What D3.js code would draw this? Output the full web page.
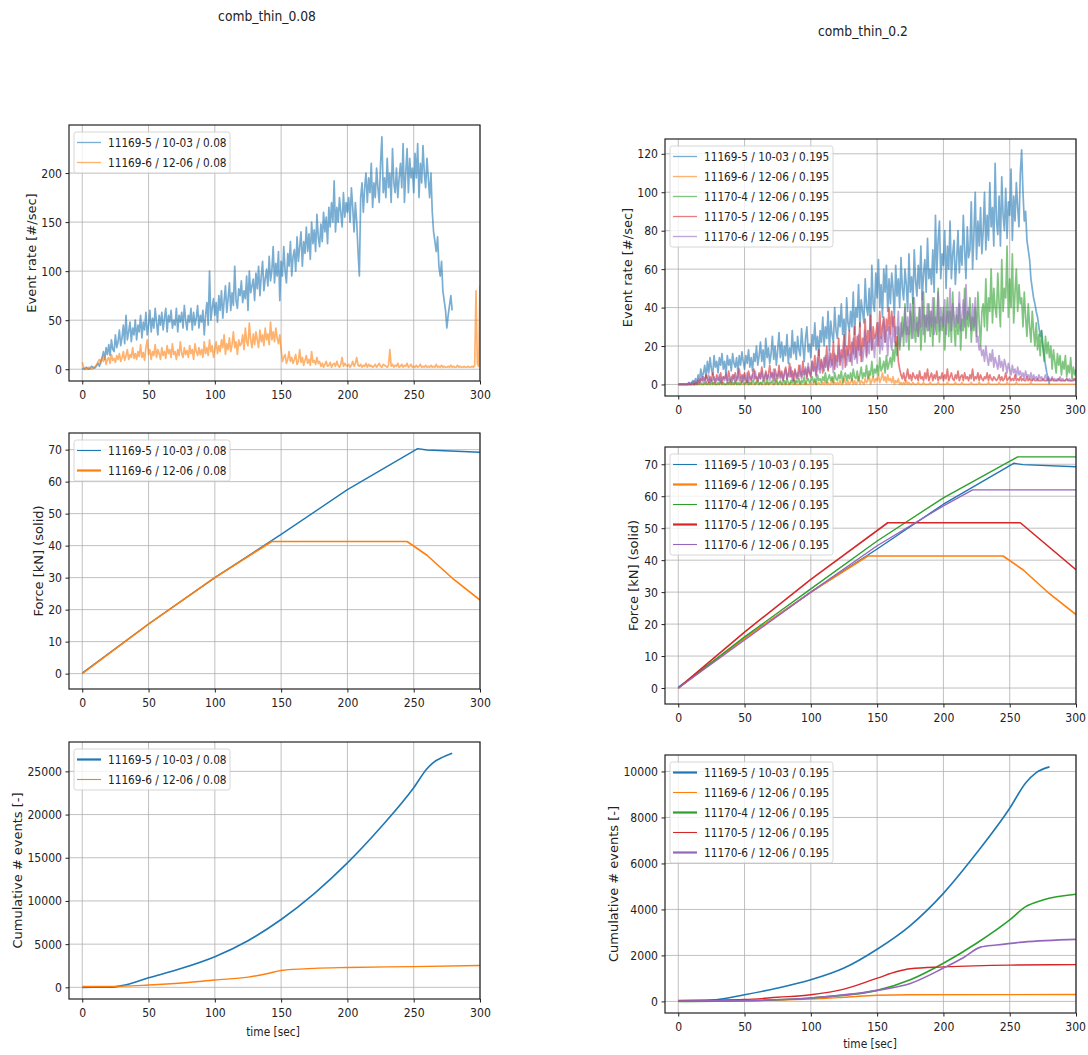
<!DOCTYPE html>
<html><head><meta charset="utf-8">
<script src="https://cdn.jsdelivr.net/npm/d3@7"></script>
<style>
body{margin:0;background:#fff}
svg{display:block}
text{font-family:"DejaVu Sans",sans-serif;fill:#222}
</style>
</head><body>
<svg id="c" width="1088" height="1055"></svg>
<script>
// ---------------- DATA ----------------
const panelTitles = ["comb_thin_0.08", "comb_thin_0.2"];
const leftLabels = ["11169-5 / 10-03 / 0.08", "11169-6 / 12-06 / 0.08"];
const rightLabels = ["11169-5 / 10-03 / 0.195", "11169-6 / 12-06 / 0.195", "11170-4 / 12-06 / 0.195", "11170-5 / 12-06 / 0.195", "11170-6 / 12-06 / 0.195"];
const xTickValues = [0, 50, 100, 150, 200, 250, 300];
const yTicksRateLeft = [0, 50, 100, 150, 200];
const yTicksRateRight = [0, 20, 40, 60, 80, 100, 120];
const yTicksForce = [0, 10, 20, 30, 40, 50, 60, 70];
const yTicksCumLeft = [0, 5000, 10000, 15000, 20000, 25000];
const yTicksCumRight = [0, 2000, 4000, 6000, 8000, 10000];
const rateStepSec = 1; // event-rate samples, one per second starting at t=0

// Event rate, comb_thin_0.08
const rateL_11169_5 = [
0,1,0,2,1,0,1,3,2,1, 2,4,6,3,8,12,18,10,22,15, 25,14,30,20,18,35,22,28,40,24, 32,45,26,55,30,38,48,28,42,35,
50,30,45,38,55,32,48,40,58,35, 45,60,38,52,42,62,48,35,55,45, 58,40,52,62,38,55,48,60,42,50, 45,62,38,55,48,58,42,65,50,40,
55,48,62,40,58,45,52,65,42,55, 48,60,35,55,68,45,100,50,62,72, 55,68,48,75,60,80,52,70,85,58, 72,88,60,78,65,105,70,62,82,75,
90,68,80,72,95,60,100,78,85,92, 70,98,82,105,75,95,110,80,92,102, 85,115,90,100,125,88,108,95,120,70, 110,95,125,100,88,118,105,130,95,115,
122,100,135,110,125,140,105,130,118,145, 120,138,112,150,128,142,120,158,135,125, 148,130,160,140,155,128,165,145,170,150, 192,140,165,150,175,160,145,180,155,170,
160,175,150,185,165,140,170,150,120,95, 175,190,160,185,200,170,195,180,210,165, 190,175,205,185,170,210,237,180,195,175, 215,185,200,170,225,190,180,205,175,195,
210,185,230,170,200,225,180,215,195,205, 180,220,195,230,175,210,190,228,200,185, 215,195,175,200,160,140,130,120,135,105, 95,110,80,70,60,42,55,65,75,60
];
const rateL_11169_6 = [
7,2,0,1,0,2,1,0,1,2, 3,5,8,10,6,12,8,14,5,10, 12,6,15,9,11,7,14,10,16,8, 12,18,9,14,20,10,15,12,22,11,
16,10,18,13,25,12,17,9,22,30, 15,20,10,18,14,25,12,20,16,10, 22,14,18,11,24,16,20,12,26,15, 18,10,20,14,28,16,12,22,15,19,
12,24,16,20,10,26,18,14,22,15, 20,12,28,16,22,14,30,18,24,12, 20,28,16,24,18,30,22,35,15,26, 20,32,18,25,38,22,28,15,30,24,
26,35,20,42,28,24,47,30,22,36, 25,38,30,22,40,28,35,24,42,30, 36,25,48,30,38,28,42,32,26,35, 20,8,12,15,6,10,18,8,12,6,
10,15,5,8,20,7,12,4,9,14, 6,10,4,18,7,9,5,12,6,8, 3,6,2,5,8,3,4,7,2,5, 6,3,8,4,2,5,12,3,6,4,
3,5,2,4,8,3,6,12,4,3, 5,2,4,3,6,2,5,3,4,2, 3,5,2,4,6,3,2,5,4,3, 2,4,20,3,5,2,4,3,6,2,
3,5,2,4,3,6,2,3,5,2, 3,2,4,2,3,5,2,3,2,4, 2,3,2,4,2,3,2,5,2,3, 2,4,2,3,2,2,3,2,4,2,
3,2,2,4,2,3,2,2,3,2, 2,3,2,2,3,2,4,80,5,3, 85
];

// Event rate, comb_thin_0.2
const rateR_11169_5 = [
0,0,0,0,0,0,0,0,1,0, 1,2,0,3,1,5,2,8,4,6, 10,3,12,6,14,8,5,15,9,12, 6,14,10,16,8,12,5,15,10,13,
7,16,11,9,14,6,15,10,17,12, 8,15,11,18,9,14,7,16,12,20, 10,15,22,12,18,9,24,14,19,11, 16,25,13,20,10,18,27,14,22,12,
20,15,26,11,19,14,28,16,22,13, 25,18,15,29,20,12,24,30,17,21, 14,26,20,32,18,25,15,28,22,35, 20,30,24,38,18,33,26,22,40,28,
24,36,30,42,26,34,20,45,32,28, 38,30,48,26,40,35,52,30,44,38, 32,55,40,36,50,28,62,42,38,58, 45,65,40,52,35,60,48,62,38,55,
42,58,50,35,62,46,55,40,66,50, 44,60,52,38,68,48,56,42,70,54, 46,62,50,72,44,58,65,48,76,55, 60,52,70,48,88,58,75,85,55,68,
62,80,50,72,60,85,55,68,75,52, 65,80,58,72,62,88,70,55,82,66, 70,95,60,78,100,65,85,72,92,68, 80,100,70,88,75,105,82,92,72,115,
85,78,98,72,108,88,80,102,76,95, 88,112,75,98,85,105,92,82,110,122, 100,85,90,75,70,65,55,50,45,42, 38,35,30,25,28,20,15,10,6,3, 0
];
const rateR_11169_6 = [
0,0,0,0,0,0,0,0,0,0, 0,0,0,0,0,1,0,0,0,0, 0,1,0,0,0,0,1,0,0,0, 0,0,1,0,0,0,0,0,1,0,
0,0,0,1,0,0,0,2,0,0, 0,1,0,0,0,1,0,0,0,2, 0,0,1,0,0,0,0,1,0,0, 1,0,0,0,2,0,0,1,0,0,
0,1,0,0,0,1,0,0,2,0, 0,0,1,0,0,0,1,0,0,0, 1,0,0,2,0,0,1,0,0,1, 0,2,0,1,0,0,3,0,1,0,
1,0,2,0,0,3,1,0,2,0, 1,3,0,2,0,1,4,0,2,1, 0,3,1,2,5,0,2,4,1,3, 2,5,1,3,6,2,4,1,5,2,
3,1,4,0,2,1,3,0,1,0, 1,0,2,0,1,0,0,1,0,0, 0,1,0,0,0,1,0,0,0,0, 1,0,0,0,0,0,1,0,0,0,
0,0,0,1,0,0,0,0,0,1, 0,0,0,0,1,0,0,0,0,0, 0,1,0,0,0,0,0,1,0,0, 0,0,0,0,1,0,0,0,0,0,
0,0,1,0,0,0,0,0,1,0, 0,0,0,0,0,1,0,0,0,0, 0,0,0,0,0,0,1,0,0,0, 0,0,0,0,0,0,0,0,0,0,
0,0,0,0,0,0,0,0,0,0, 0,0,0,0,0,0,0,0,0,0, 0
];
const rateR_11170_4 = [
0,0,0,0,0,0,0,0,0,0, 0,1,0,0,1,0,0,1,0,0, 1,0,0,1,0,2,0,1,0,0, 1,0,2,0,1,0,0,1,0,2,
0,1,0,2,0,1,0,0,2,1, 0,1,2,0,1,0,2,1,0,1, 2,0,1,0,2,1,0,3,0,1, 1,2,0,1,3,0,1,2,0,1,
2,0,3,1,0,2,1,3,0,2, 1,3,0,2,1,4,0,2,3,1, 2,4,1,3,0,5,2,3,1,4, 2,6,1,3,5,2,4,1,6,3,
2,5,3,7,1,4,6,2,5,3, 6,2,8,4,3,7,2,5,9,3, 6,4,10,3,7,5,12,4,8,6, 10,5,14,7,9,12,6,15,8,11,
14,9,18,12,22,15,30,18,25,35, 20,42,26,30,18,38,24,45,28,22, 35,25,40,18,32,48,22,36,28,42, 25,38,20,45,30,26,50,22,35,28,
40,18,32,45,25,38,22,48,30,20, 36,26,42,18,34,28,50,24,38,30, 45,22,35,28,40,25,48,32,20,38, 42,30,55,28,45,38,60,32,50,40,
35,58,42,30,65,38,50,45,72,35, 55,40,68,32,48,60,38,52,42,45, 30,48,35,25,42,30,22,38,28,20, 32,18,26,15,28,20,12,25,16,22,
14,20,8,18,12,6,16,10,15,5, 12,8,15,4,10,6,14,3,9,5, 8
];
const rateR_11170_5 = [
0,0,0,0,0,0,0,0,0,0, 0,0,0,1,0,2,1,3,2,4, 2,5,3,1,4,2,6,3,1,5, 3,2,6,1,4,3,5,2,7,3,
1,5,3,6,2,4,8,3,5,2, 6,3,1,7,4,2,5,8,3,4, 2,6,3,9,4,2,7,3,5,10, 4,6,2,8,5,3,10,4,7,2,
6,9,3,5,11,4,7,2,8,5, 3,10,6,4,12,5,8,3,9,6, 4,12,7,15,5,10,18,8,13,6, 14,9,20,7,12,16,10,22,8,15,
12,24,10,18,14,26,9,20,15,28, 12,22,16,30,14,25,18,32,12,24, 20,34,15,28,22,36,18,30,24,26, 32,20,38,24,30,35,22,34,28,40,
26,38,30,35,20,25,12,8,5,3, 6,2,4,8,3,5,2,6,4,3, 5,2,7,3,4,2,6,3,8,2, 4,6,2,5,3,7,2,4,3,6,
2,5,3,8,2,4,6,3,2,5, 3,7,2,4,5,2,6,3,4,2, 5,3,8,2,4,3,6,2,5,3, 2,4,3,6,2,5,3,2,4,3,
2,3,5,2,4,2,3,6,2,3, 4,2,3,2,5,2,3,2,4,2, 3,2,2,4,2,3,2,2,3,2, 2,3,2,2,2,3,2,2,2,3,
2,2,3,2,2,2,2,3,2,2, 2,2,2,3,2,2,2,2,2,3, 2
];
const rateR_11170_6 = [
0,0,0,0,0,0,0,0,1,0, 1,0,2,1,0,3,1,2,4,1, 3,1,2,5,1,3,2,4,1,3, 2,5,1,3,4,2,6,1,3,2,
4,2,5,1,3,6,2,4,1,5, 3,2,6,1,4,3,5,2,7,3, 2,5,3,7,2,4,6,3,5,2, 6,3,8,2,5,4,7,3,6,2,
5,8,3,6,4,9,2,5,7,3, 6,4,10,3,7,5,9,4,11,6, 5,12,7,9,4,14,8,6,12,9, 7,15,10,8,18,9,13,6,16,11,
9,20,12,15,8,22,14,10,18,12, 16,10,24,13,19,11,26,15,20,12, 18,28,14,22,16,30,18,24,14,26, 20,32,16,25,18,34,22,28,15,30,
24,18,35,22,30,26,38,20,32,25, 28,40,22,35,26,42,30,24,45,28, 32,25,40,30,48,26,36,30,42,28, 38,30,45,26,35,32,48,28,40,34,
30,44,26,38,32,50,28,42,35,30, 40,32,48,28,36,44,30,52,34,40, 35,28,42,30,45,22,25,18,20,15, 18,12,20,14,10,16,12,18,9,14,
11,8,15,9,12,7,13,10,6,11, 8,5,10,6,8,4,9,5,7,4, 6,3,7,4,5,3,6,2,5,3, 4,2,5,3,4,2,3,5,2,4,
3,2,4,2,3,2,3,2,4,2, 3,2,2,3,2,3,2,2,3,2, 2
];

// Force [kN]
const force_11169_5_t = [0, 50, 100, 150, 200, 253, 260, 300];
const force_11169_5_v = [0.2, 15.5, 30, 43.5, 57.5, 70.3, 69.9, 69.2];
const force_11169_6_t = [0, 50, 100, 143, 245, 260, 280, 300];
const force_11169_6_v = [0, 15.5, 30, 41.3, 41.3, 37, 29.5, 23];
const force_11170_4_t = [0, 50, 100, 150, 200, 256, 300];
const force_11170_4_v = [0, 16, 31, 46, 59.5, 72.3, 72.3];
const force_11170_5_t = [0, 50, 100, 158, 258, 300];
const force_11170_5_v = [0, 17.5, 34, 51.7, 51.7, 37];
const force_11170_6_t = [0, 100, 150, 200, 222, 300];
const force_11170_6_v = [0, 30, 44.5, 57, 62, 62];

// Cumulative events
const cumL_11169_5_t = [0, 20, 30, 50, 75, 100, 125, 150, 175, 200, 225, 250, 260, 265, 272, 279];
const cumL_11169_5_v = [0, 20, 200, 1100, 2200, 3550, 5400, 7850, 10850, 14400, 18500, 23100, 25300, 26050, 26650, 27100];
const cumL_11169_6_t = [0, 20, 50, 75, 100, 125, 140, 150, 175, 200, 250, 300];
const cumL_11169_6_v = [100, 100, 270, 500, 850, 1180, 1600, 1950, 2200, 2300, 2400, 2530];
const cumR_11169_5_t = [0, 25, 50, 75, 100, 125, 150, 175, 200, 225, 250, 262, 270, 280];
const cumR_11169_5_v = [40, 60, 290, 580, 940, 1450, 2270, 3300, 4700, 6450, 8400, 9500, 9950, 10200];
const cumR_11169_6_t = [0, 50, 100, 125, 150, 175, 300];
const cumR_11169_6_v = [20, 30, 100, 180, 270, 290, 300];
const cumR_11170_4_t = [0, 50, 100, 150, 175, 200, 225, 250, 262, 275, 300];
const cumR_11170_4_v = [0, 30, 150, 480, 940, 1660, 2530, 3545, 4120, 4410, 4660];
const cumR_11170_5_t = [0, 50, 75, 100, 125, 150, 165, 175, 200, 250, 300];
const cumR_11170_5_v = [30, 80, 180, 290, 535, 1010, 1300, 1420, 1500, 1580, 1600];
const cumR_11170_6_t = [0, 50, 100, 150, 175, 200, 215, 228, 240, 260, 300];
const cumR_11170_6_v = [20, 40, 150, 480, 780, 1450, 1900, 2360, 2450, 2580, 2700];

// ---------------- DRAWING ----------------
const COLORS = ["#1f77b4", "#ff7f0e", "#2ca02c", "#d62728", "#9467bd"];
const svg = d3.select("#c");
const FONT = "DejaVu Sans";

const ratePts = arr => arr.map((v, i) => [i * rateStepSec, v]);
const zipPts = (t, v) => t.map((d, i) => [d, v[i]]);

// narrow horizontal text (the reference glyphs are horizontally condensed)
function condense(sel, f) {
  sel.each(function () {
    const w = this.getComputedTextLength();
    d3.select(this).attr("textLength", w * f).attr("lengthAdjust", "spacingAndGlyphs");
  });
}

function drawPanel(p) {
  const x = d3.scaleLinear().domain([-10, 300]).range([p.left, p.right]);
  const y = d3.scaleLinear().domain(p.yDomain).range([p.bottom, p.top]);
  const g = svg.append("g");

  g.append("g").selectAll("line").data(xTickValues).join("line")
    .attr("x1", d => x(d)).attr("x2", d => x(d))
    .attr("y1", p.top).attr("y2", p.bottom)
    .attr("stroke", "#b0b0b0").attr("stroke-width", 0.8);
  g.append("g").selectAll("line").data(p.yTicks).join("line")
    .attr("x1", p.left).attr("x2", p.right)
    .attr("y1", d => y(d)).attr("y2", d => y(d))
    .attr("stroke", "#b0b0b0").attr("stroke-width", 0.8);

  const cid = "clip-" + p.id;
  svg.append("clipPath").attr("id", cid).append("rect")
    .attr("x", p.left).attr("y", p.top)
    .attr("width", p.right - p.left).attr("height", p.bottom - p.top);

  const line = d3.line().x(d => x(d[0])).y(d => y(d[1])).curve(p.curve || d3.curveLinear);
  const lg = g.append("g").attr("clip-path", `url(#${cid})`);
  p.series.forEach(s => {
    lg.append("path").datum(s.points)
      .attr("d", line).attr("fill", "none")
      .attr("stroke", s.color).attr("stroke-width", s.width)
      .attr("stroke-opacity", s.opacity == null ? 1 : s.opacity)
      .attr("stroke-linejoin", "round");
  });

  const ax = g.append("g").attr("transform", `translate(0,${p.bottom})`)
    .call(d3.axisBottom(x).tickValues(xTickValues).tickSize(3.5).tickPadding(5.5).tickFormat(d3.format("d")));
  ax.select(".domain").remove();
  ax.attr("font-family", FONT).attr("font-size", 12.5).attr("color", "#222");
  condense(ax.selectAll("text"), 0.87);
  if (p.right > 1000) {
    // keep the last label inside the page edge, same visual centre as the reference
    ax.selectAll(".tick").filter(d => d === 300).select("text")
      .attr("text-anchor", "end").attr("x", 9.5);
  }

  const ay = g.append("g").attr("transform", `translate(${p.left},0)`)
    .call(d3.axisLeft(y).tickValues(p.yTicks).tickSize(3.5).tickPadding(3.5).tickFormat(d3.format("d")));
  ay.select(".domain").remove();
  ay.attr("font-family", FONT).attr("font-size", 12.5).attr("color", "#222");
  condense(ay.selectAll("text"), 0.87);

  g.append("rect").attr("x", p.left).attr("y", p.top)
    .attr("width", p.right - p.left).attr("height", p.bottom - p.top)
    .attr("fill", "none").attr("stroke", "#222").attr("stroke-width", 1.2);

  g.append("text")
    .attr("transform", `translate(${p.ylabelX},${(p.top + p.bottom) / 2}) rotate(-90)`)
    .attr("text-anchor", "middle").attr("dy", "0.35em")
    .attr("font-size", 13).text(p.ylabel);

  if (p.xlabel) {
    const xl = g.append("text").attr("x", p.xlabelX).attr("y", p.xlabelY)
      .attr("text-anchor", "middle").attr("font-size", 12.5).text(p.xlabel);
    condense(xl, 0.85);
  }

  const n = p.series.length;
  const lx = p.left + 5, ly = p.top + 7;
  const leg = g.append("g");
  leg.append("rect").attr("x", lx).attr("y", ly)
    .attr("width", p.legendW).attr("height", n * 20 + 1)
    .attr("rx", 2.5).attr("fill", "#fff").attr("fill-opacity", 0.8)
    .attr("stroke", "#cccccc").attr("stroke-width", 0.8);
  p.series.forEach((s, i) => {
    const cy = ly + 10.5 + i * 20;
    leg.append("line").attr("x1", lx + 3).attr("x2", lx + 27)
      .attr("y1", cy).attr("y2", cy)
      .attr("stroke", s.color).attr("stroke-width", s.legendWidth || s.width)
      .attr("stroke-opacity", s.opacity == null ? 1 : s.opacity);
    const t = leg.append("text").attr("x", lx + 34).attr("y", cy).attr("dy", "0.36em")
      .attr("font-size", 13).text(s.label);
    condense(t, 0.81);
  });
}

const t1 = svg.append("text").attr("x", 267).attr("y", 21).attr("text-anchor", "middle")
  .attr("font-size", 14).text(panelTitles[0]);
condense(t1, 0.88);
const t2 = svg.append("text").attr("x", 863).attr("y", 36).attr("text-anchor", "middle")
  .attr("font-size", 14).text(panelTitles[1]);
condense(t2, 0.88);

const L = {left: 69, right: 480};
const R = {left: 665, right: 1076};
const RW = 1.7;

drawPanel({id: "lt", ...L, top: 125, bottom: 381, yDomain: [-12, 249], yTicks: yTicksRateLeft,
  ylabel: "Event rate [#/sec]", ylabelX: 31, legendW: 156,
  series: [
    {label: leftLabels[0], color: COLORS[0], width: RW, legendWidth: 1.3, opacity: 0.6, points: ratePts(rateL_11169_5)},
    {label: leftLabels[1], color: COLORS[1], width: RW, legendWidth: 1.3, opacity: 0.6, points: ratePts(rateL_11169_6)}
  ]});
drawPanel({id: "lm", ...L, top: 433, bottom: 689, yDomain: [-4.8, 75.2], yTicks: yTicksForce,
  ylabel: "Force [kN] (solid)", ylabelX: 38, legendW: 156,
  series: [
    {label: leftLabels[0], color: COLORS[0], width: 1.4, legendWidth: 1.1, points: zipPts(force_11169_5_t, force_11169_5_v)},
    {label: leftLabels[1], color: COLORS[1], width: 1.6, legendWidth: 2.2, points: zipPts(force_11169_6_t, force_11169_6_v)}
  ]});
drawPanel({id: "lb", ...L, top: 742, bottom: 999, yDomain: [-1350, 28400], yTicks: yTicksCumLeft,
  ylabel: "Cumulative # events [-]", ylabelX: 17, legendW: 156, curve: d3.curveMonotoneX,
  xlabel: "time [sec]", xlabelX: 273, xlabelY: 1036,
  series: [
    {label: leftLabels[0], color: COLORS[0], width: 1.6, legendWidth: 2.2, points: zipPts(cumL_11169_5_t, cumL_11169_5_v)},
    {label: leftLabels[1], color: COLORS[1], width: 1.4, legendWidth: 1.1, points: zipPts(cumL_11169_6_t, cumL_11169_6_v)}
  ]});

drawPanel({id: "rt", ...R, top: 139, bottom: 396, yDomain: [-6, 127.7], yTicks: yTicksRateRight,
  ylabel: "Event rate [#/sec]", ylabelX: 627, legendW: 163,
  series: [
    {label: rightLabels[0], color: COLORS[0], width: RW, legendWidth: 1.3, opacity: 0.6, points: ratePts(rateR_11169_5)},
    {label: rightLabels[1], color: COLORS[1], width: RW, legendWidth: 1.3, opacity: 0.6, points: ratePts(rateR_11169_6)},
    {label: rightLabels[2], color: COLORS[2], width: RW, legendWidth: 1.3, opacity: 0.6, points: ratePts(rateR_11170_4)},
    {label: rightLabels[3], color: COLORS[3], width: RW, legendWidth: 1.3, opacity: 0.6, points: ratePts(rateR_11170_5)},
    {label: rightLabels[4], color: COLORS[4], width: RW, legendWidth: 1.3, opacity: 0.6, points: ratePts(rateR_11170_6)}
  ]});
drawPanel({id: "rm", ...R, top: 447, bottom: 704, yDomain: [-5, 75.4], yTicks: yTicksForce,
  ylabel: "Force [kN] (solid)", ylabelX: 633, legendW: 163,
  series: [
    {label: rightLabels[0], color: COLORS[0], width: 1.4, legendWidth: 1.1, points: zipPts(force_11169_5_t, force_11169_5_v)},
    {label: rightLabels[1], color: COLORS[1], width: 1.6, legendWidth: 2.2, points: zipPts(force_11169_6_t, force_11169_6_v)},
    {label: rightLabels[2], color: COLORS[2], width: 1.4, legendWidth: 1.1, points: zipPts(force_11170_4_t, force_11170_4_v)},
    {label: rightLabels[3], color: COLORS[3], width: 1.6, legendWidth: 2.2, points: zipPts(force_11170_5_t, force_11170_5_v)},
    {label: rightLabels[4], color: COLORS[4], width: 1.4, legendWidth: 1.1, points: zipPts(force_11170_6_t, force_11170_6_v)}
  ]});
drawPanel({id: "rb", ...R, top: 755, bottom: 1013, yDomain: [-504, 10716], yTicks: yTicksCumRight,
  ylabel: "Cumulative # events [-]", ylabelX: 613, legendW: 163, curve: d3.curveMonotoneX,
  xlabel: "time [sec]", xlabelX: 870, xlabelY: 1048,
  series: [
    {label: rightLabels[0], color: COLORS[0], width: 1.6, legendWidth: 2.2, points: zipPts(cumR_11169_5_t, cumR_11169_5_v)},
    {label: rightLabels[1], color: COLORS[1], width: 1.4, legendWidth: 1.1, points: zipPts(cumR_11169_6_t, cumR_11169_6_v)},
    {label: rightLabels[2], color: COLORS[2], width: 1.6, legendWidth: 2.2, points: zipPts(cumR_11170_4_t, cumR_11170_4_v)},
    {label: rightLabels[3], color: COLORS[3], width: 1.4, legendWidth: 1.1, points: zipPts(cumR_11170_5_t, cumR_11170_5_v)},
    {label: rightLabels[4], color: COLORS[4], width: 1.6, legendWidth: 2.2, points: zipPts(cumR_11170_6_t, cumR_11170_6_v)}
  ]});
</script>
</body></html>
